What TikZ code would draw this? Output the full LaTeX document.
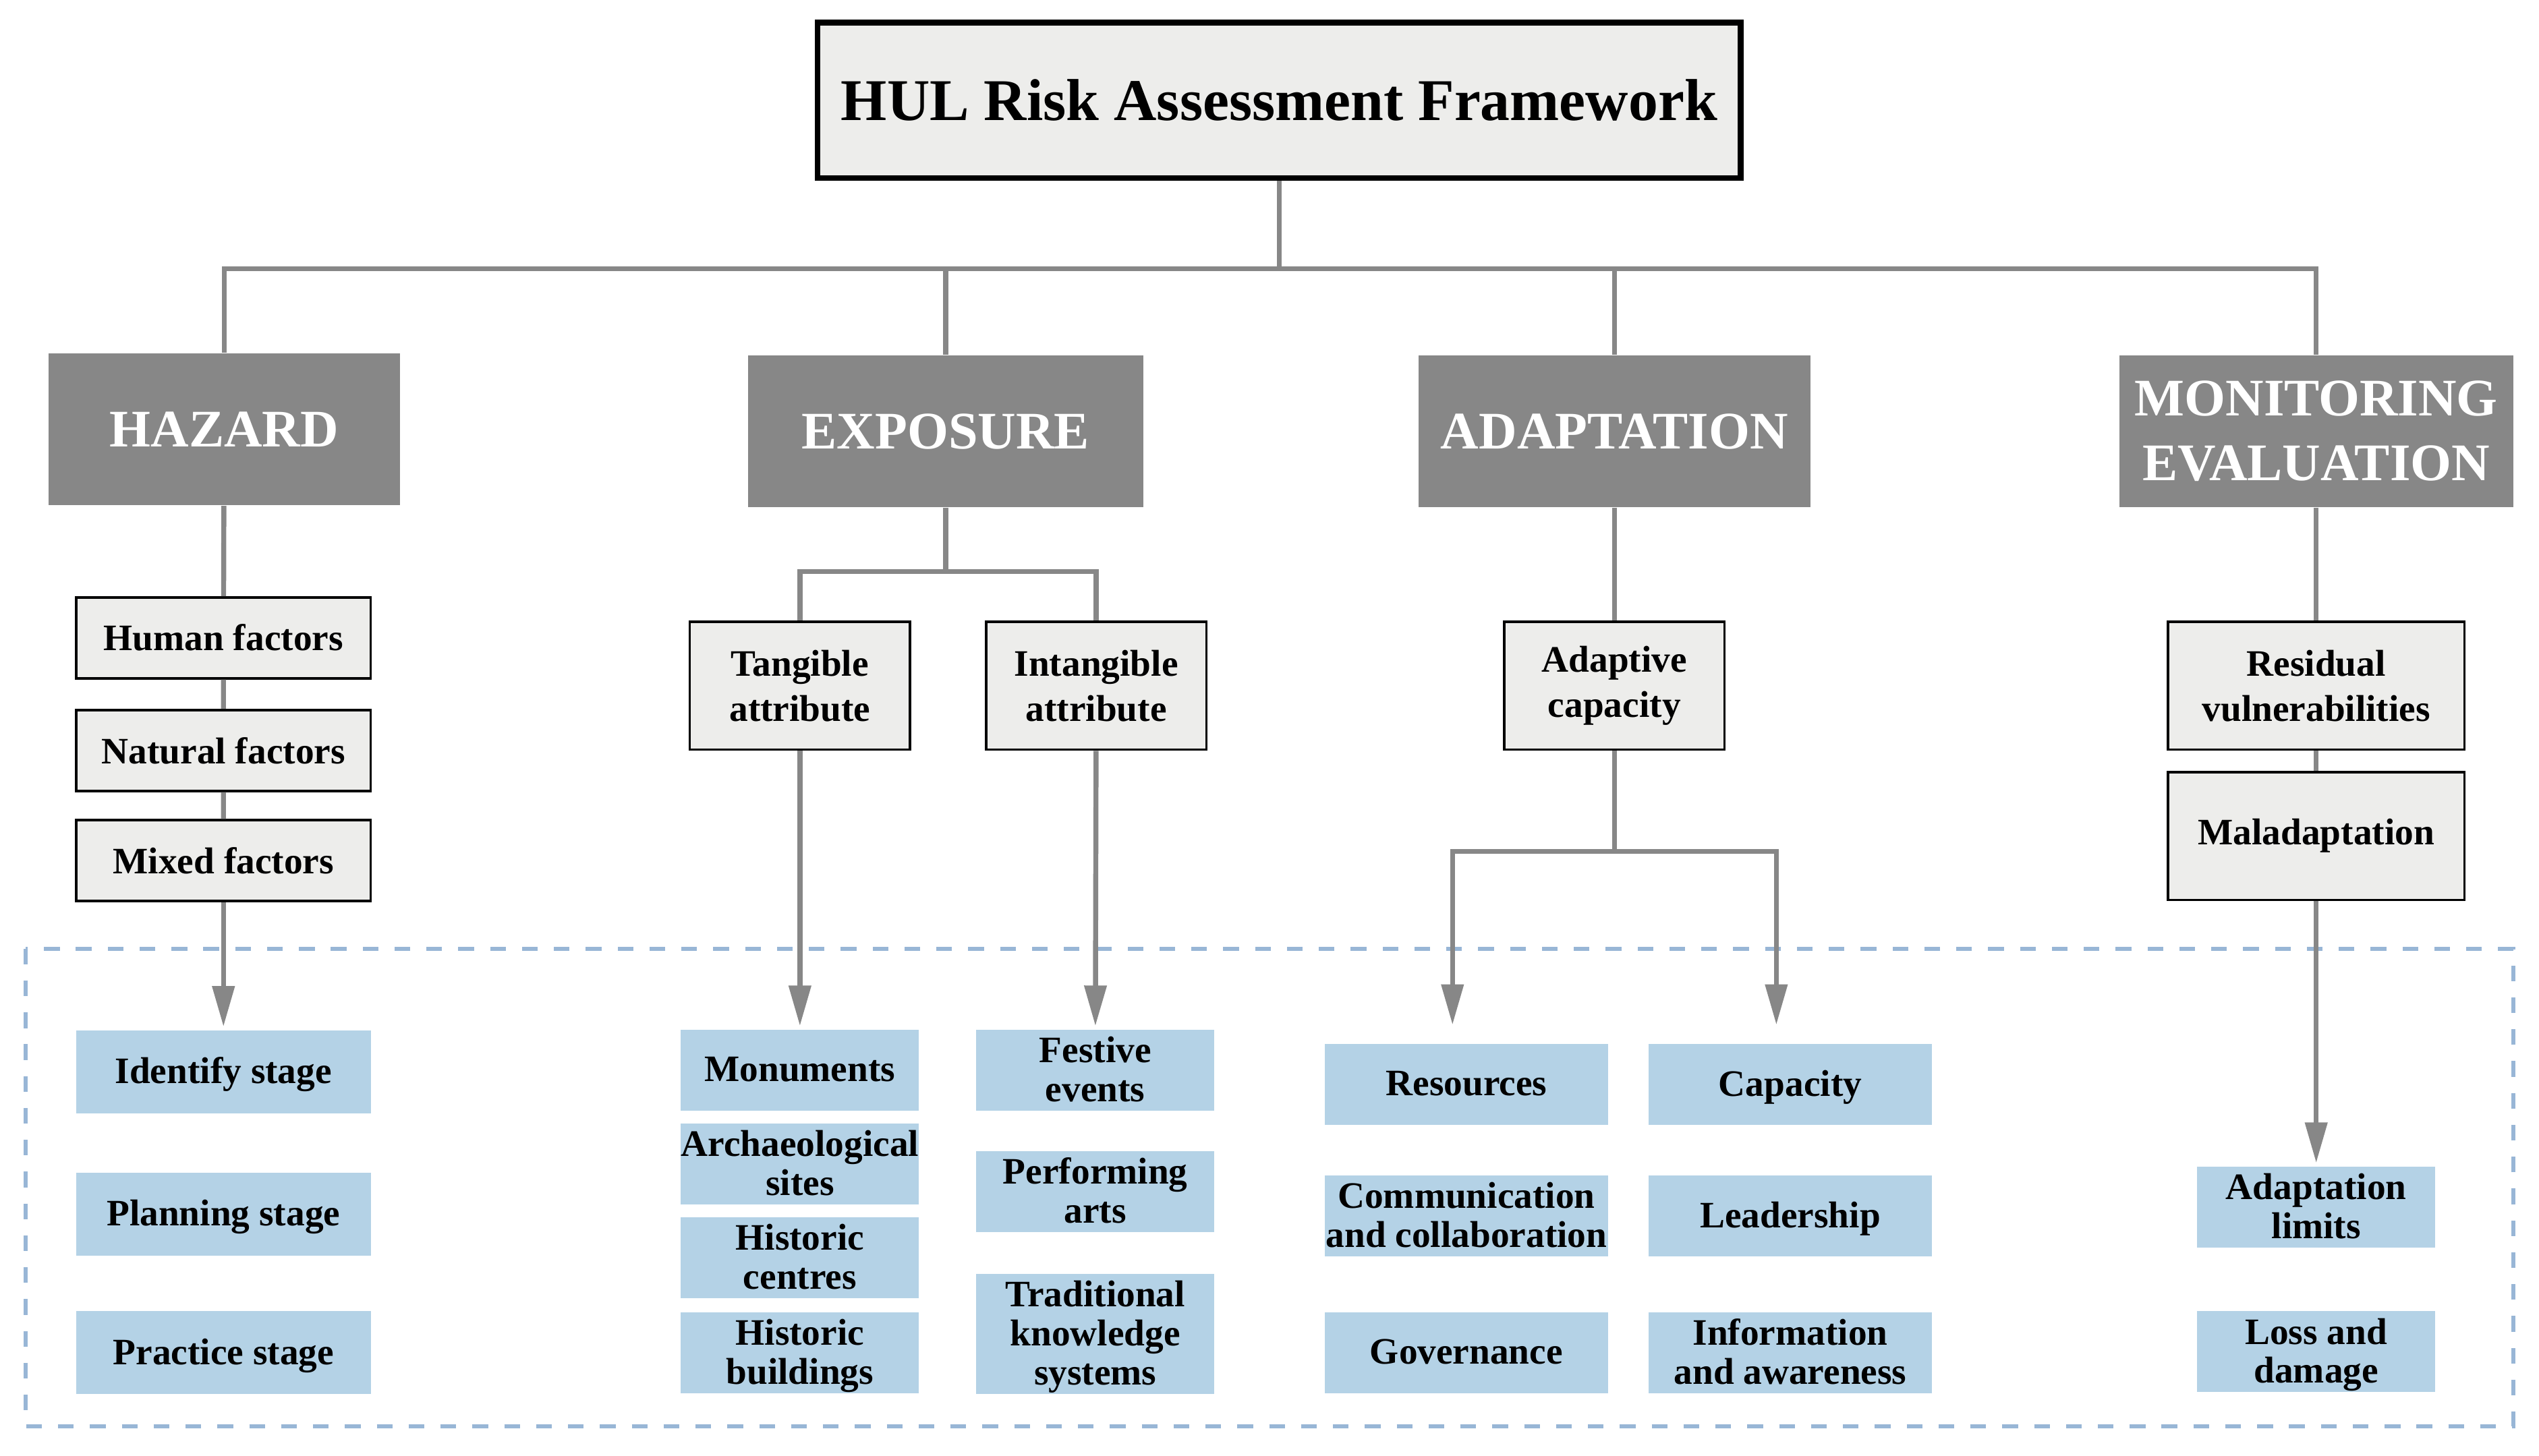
\documentclass[tikz,border=0pt]{standalone}
\usepackage{fontspec}
\setmainfont{Liberation Serif}
\usetikzlibrary{arrows.meta, positioning}
\definecolor{grigio}{HTML}{878787}
\definecolor{grigiochiaro}{HTML}{EDEDEB}
\definecolor{azzurro}{HTML}{B4D2E6}
\definecolor{bordoazzurro}{HTML}{98B6D6}

\begin{document}
\begin{tikzpicture}[
  font=\bfseries,
  titolo/.style={draw=black, line width=2.5pt, fill=grigiochiaro,
                 minimum width=14.25cm, minimum height=2.4cm,
                 font=\fontsize{26}{31}\selectfont\bfseries},
  categoria/.style={fill=grigio, text=white, align=center, inner sep=0pt,
                    minimum width=6.05cm, minimum height=2.35cm,
                    font=\fontsize{23.2}{28.5}\selectfont\bfseries},
  fattore/.style={draw=black, line width=1pt, fill=grigiochiaro, align=center, inner sep=0pt,
                  minimum width=4.55cm, minimum height=1.25cm,
                  font=\fontsize{16.4}{19.9}\selectfont\bfseries},
  voce/.style={fill=azzurro, align=center, inner sep=0pt, text depth=0.1em,
               minimum width=3.675cm, minimum height=1.25cm,
               font=\fontsize{16.4}{17.1}\selectfont\bfseries},
  collegamento/.style={draw=grigio, line width=2.2pt},
  freccia/.style={collegamento, shorten >=1.4pt, -{Triangle[length=17.8pt, width=9.5pt]}},
  cornice/.style={draw=bordoazzurro, line width=1.8pt, dash pattern=on 6.9pt off 7.1pt}
]
\useasboundingbox (0,0) rectangle (39.2,-22.475);

% ---- cornice tratteggiata dei risultati -------------------------------
\draw[cornice] (0.4,-14.65) rectangle (38.8,-22.025);

% ---- titolo e categorie principali ------------------------------------
\node[titolo] (titolo) at (19.75,-1.55) {HUL Risk Assessment Framework};

\node[categoria, minimum width=5.425cm] (hazard) at (3.46,-6.63) {HAZARD};
\node[categoria, minimum width=6.1cm] (exposure) at (14.6,-6.66) {EXPOSURE};
\node[categoria] (adaptation) at (24.925,-6.66) {ADAPTATION};
\node[categoria, minimum width=6.08cm] (monitoring) at (35.76,-6.66) {MONITORING\\EVALUATION};

\coordinate (bus) at (19.75,-4.15);
\draw[collegamento] (titolo.south) -- (bus);
\foreach \c in {hazard, exposure, adaptation, monitoring} {
  \draw[collegamento] (bus) -| (\c.north);
}

% ---- hazard --------------------------------------------------------------
\node[fattore] (umani) at (3.45,-9.85) {Human factors};
\node[fattore] (naturali) at (3.45,-11.59) {Natural factors};
\node[fattore] (misti) at (3.45,-13.29) {Mixed factors};
\draw[collegamento] (hazard) -- (umani) -- (naturali) -- (misti);

\foreach \n/\y/\t in {1/-16.55/{Identify stage}, 2/-18.75/{Planning stage}, 3/-20.89/{Practice stage}} {
  \node[voce, minimum width=4.55cm, minimum height=1.28cm] (fase\n) at (3.45,\y) {\t};
}
\draw[freccia] (misti) -- (fase1);

% ---- exposure ------------------------------------------------------------
\node[fattore, minimum width=3.4cm, minimum height=1.975cm] (tangibile) at (12.35,-10.59) {Tangible\\attribute};
\node[fattore, minimum width=3.4cm, minimum height=1.975cm] (intangibile) at (16.925,-10.59) {Intangible\\attribute};
\coordinate (espsplit) at (14.6,-8.825);
\draw[collegamento] (exposure) -- (espsplit);
\draw[collegamento] (espsplit) -| (tangibile.north);
\draw[collegamento] (espsplit) -| (intangibile.north);

\foreach \n/\y/\t in {1/-16.525/{Monuments}, 2/-17.975/{Archaeological\\sites},
                      3/-19.425/{Historic\\centres}, 4/-20.89/{Historic\\buildings}} {
  \node[voce] (tang\n) at (12.35,\y) {\t};
}
\node[voce] (intang1) at (16.91,-16.525) {Festive\\events};
\node[voce] (intang2) at (16.91,-18.4) {Performing\\arts};
\node[voce, minimum height=1.85cm] (intang3) at (16.91,-20.6) {Traditional\\knowledge\\systems};
\draw[freccia] (tangibile) -- (tang1);
\draw[freccia] (intangibile) -- (intang1);

% ---- adaptation ----------------------------------------------------------
\node[fattore, minimum width=3.4cm, minimum height=1.975cm] (adattiva) at (24.925,-10.59) {Adaptive\\capacity};
\draw[collegamento] (adaptation) -- (adattiva);
\coordinate (adasplit) at (24.925,-13.15);
\coordinate (risin) at (22.425,-15.875);
\coordinate (capin) at (27.425,-15.875);
\draw[collegamento] (adattiva) -- (adasplit);
\draw[freccia] (adasplit) -| (risin);
\draw[freccia] (adasplit) -| (capin);

\foreach \n/\y/\a/\b in {1/-16.75/{Resources}/{Capacity},
                         2/-18.775/{Communication\\and collaboration}/{Leadership},
                         3/-20.89/{Governance}/{Information\\and awareness}} {
  \node[voce, minimum width=4.375cm] (risorsa\n) at (22.64,\y) {\a};
  \node[voce, minimum width=4.375cm] (capacita\n) at (27.64,\y) {\b};
}

% ---- monitoring ----------------------------------------------------------
\node[fattore, minimum width=4.575cm, minimum height=1.975cm] (residue) at (35.76,-10.59) {Residual\\vulnerabilities};
\node[fattore, minimum width=4.575cm, minimum height=1.975cm] (maladatt) at (35.76,-12.91) {Maladaptation};
\draw[collegamento] (monitoring) -- (residue) -- (maladatt);

\node[voce] (limiti) at (35.76,-18.64) {Adaptation\\limits};
\node[voce] (perdite) at (35.76,-20.875) {Loss and\\damage};
\draw[freccia] (maladatt) -- (limiti);

\end{tikzpicture}
\end{document}
